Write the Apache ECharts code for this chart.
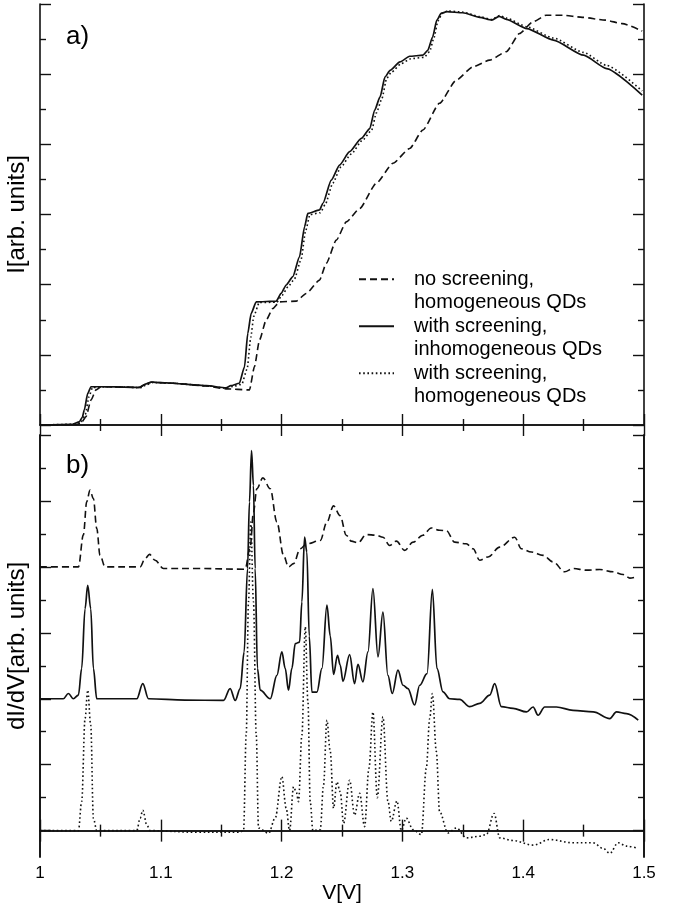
<!DOCTYPE html>
<html>
<head>
<meta charset="utf-8">
<title>I-V and dI/dV</title>
<script src="https://cdn.jsdelivr.net/npm/echarts@6/dist/echarts.min.js"></script>
<style>
  html, body { margin: 0; padding: 0; background: #fff; }
  #chart { width: 674px; height: 903px; }
</style>
</head>
<body>
<div id="chart"></div>
<script>
// legend / series names
const seriesNames = [
    'no screening,\nhomogeneous QDs',
    'with screening,\ninhomogeneous QDs',
    'with screening,\nhomogeneous QDs'
];

// a) current, [V, I]
const aDashed = [
    [1.000, 0.00], [1.030, 0.01], [1.034, 0.05], [1.0381, 0.24], [1.0422, 0.71], [1.0464, 1.00],
    [1.0505, 1.09], [1.070, 1.08], [1.082, 1.07], [1.0878, 1.17], [1.092, 1.22], [1.110, 1.19],
    [1.1375, 1.11], [1.154, 1.03], [1.1734, 1.00], [1.1775, 1.66], [1.1817, 2.42], [1.1872, 2.99],
    [1.1927, 3.32], [1.1983, 3.51], [1.2121, 3.53], [1.2204, 3.75], [1.2314, 4.13], [1.237, 4.61],
    [1.2453, 5.27], [1.2536, 5.79], [1.2646, 6.17], [1.2784, 6.89], [1.2922, 7.46], [1.306, 7.88],
    [1.317, 8.41], [1.3307, 9.17], [1.3446, 9.83], [1.3584, 10.21], [1.3722, 10.40], [1.386, 10.64],
    [1.397, 11.16], [1.408, 11.49], [1.419, 11.68], [1.4325, 11.68], [1.449, 11.62], [1.468, 11.54],
    [1.482, 11.44], [1.4985, 11.23]
];
const aSolid = [
    [1.000, 0.00], [1.027, 0.02], [1.0325, 0.09], [1.035, 0.22], [1.0367, 0.43], [1.0395, 0.90],
    [1.0422, 1.09], [1.055, 1.09], [1.070, 1.08], [1.082, 1.07], [1.0878, 1.17], [1.092, 1.22],
    [1.100, 1.21], [1.110, 1.19], [1.125, 1.15], [1.1375, 1.12], [1.154, 1.06], [1.158, 1.12],
    [1.165, 1.19], [1.1693, 1.66], [1.172, 2.61], [1.1748, 3.18], [1.179, 3.51], [1.1955, 3.53],
    [1.1996, 3.75], [1.2038, 3.99], [1.2093, 4.23], [1.2148, 4.79], [1.219, 5.65], [1.2217, 6.03],
    [1.2314, 6.13], [1.2342, 6.32], [1.2411, 6.98], [1.248, 7.41], [1.2563, 7.79], [1.266, 8.17],
    [1.273, 8.45], [1.277, 8.97], [1.2815, 9.35], [1.2856, 9.92], [1.2898, 10.11], [1.298, 10.35],
    [1.306, 10.51], [1.317, 10.54], [1.321, 10.68], [1.325, 11.06], [1.3285, 11.54], [1.332, 11.73],
    [1.3366, 11.78], [1.35, 11.75], [1.364, 11.62], [1.374, 11.54], [1.38, 11.65], [1.386, 11.56],
    [1.403, 11.30], [1.425, 10.97], [1.45, 10.54], [1.469, 10.16], [1.4985, 9.40]
];
const aDotted = [
    [1.000, 0.00], [1.028, 0.02], [1.034, 0.08], [1.0375, 0.30], [1.0405, 0.80], [1.0435, 1.07],
    [1.055, 1.09], [1.070, 1.08], [1.083, 1.06], [1.0885, 1.15], [1.093, 1.21], [1.110, 1.19],
    [1.1375, 1.12], [1.154, 1.05], [1.160, 1.10], [1.167, 1.16], [1.1715, 1.60], [1.1745, 2.50],
    [1.177, 3.10], [1.1815, 3.49], [1.196, 3.50], [1.2005, 3.70], [1.2055, 3.95], [1.2105, 4.15],
    [1.216, 4.70], [1.220, 5.55], [1.2235, 6.00], [1.232, 6.05], [1.236, 6.28], [1.2425, 6.90],
    [1.249, 7.35], [1.2575, 7.72], [1.267, 8.12], [1.2745, 8.40], [1.2785, 8.90], [1.283, 9.30],
    [1.287, 9.88], [1.291, 10.06], [1.299, 10.30], [1.307, 10.44], [1.318, 10.48], [1.3225, 10.64],
    [1.326, 11.02], [1.3295, 11.52], [1.333, 11.74], [1.3375, 11.80], [1.35, 11.77], [1.364, 11.64],
    [1.374, 11.56], [1.3805, 11.67], [1.386, 11.60], [1.403, 11.35], [1.425, 11.03], [1.45, 10.62],
    [1.469, 10.25], [1.4985, 9.52]
];

// b) dI/dV, [V, dI/dV] (curves offset: dotted 0, solid 4, dashed 8)
const bDashed = [
    [1.000, 8.00], [1.0318, 8.00], [1.0359, 8.97], [1.0387, 9.98], [1.0414, 10.33], [1.0442, 10.07],
    [1.047, 9.16], [1.0497, 8.35], [1.0539, 8.00], [1.0829, 8.00], [1.087, 8.25], [1.0906, 8.38],
    [1.0953, 8.20], [1.1022, 7.95], [1.130, 7.95], [1.1698, 7.93], [1.174, 8.60], [1.1767, 9.66],
    [1.1795, 10.37], [1.1845, 10.70], [1.1906, 10.37], [1.1961, 9.36], [1.2016, 8.35], [1.2057, 8.00],
    [1.2099, 8.10], [1.2154, 8.55], [1.2209, 8.70], [1.232, 8.80], [1.2375, 9.36], [1.243, 9.85],
    [1.2485, 9.55], [1.2535, 8.96], [1.2577, 8.78], [1.2632, 8.73], [1.2701, 8.98], [1.2784, 8.96],
    [1.2839, 8.90], [1.2894, 8.65], [1.295, 8.78], [1.3019, 8.50], [1.3088, 8.75], [1.317, 8.96],
    [1.3239, 9.18], [1.3308, 9.11], [1.3364, 9.10], [1.3433, 8.75], [1.3529, 8.70], [1.3585, 8.55],
    [1.364, 8.20], [1.3709, 8.30], [1.3806, 8.60], [1.393, 8.90], [1.3985, 8.55], [1.4068, 8.45],
    [1.4165, 8.35], [1.4247, 8.15], [1.4344, 7.85], [1.4413, 7.95], [1.4524, 7.90], [1.4634, 7.92],
    [1.4745, 7.85], [1.4827, 7.77], [1.4883, 7.66], [1.4938, 7.70]
];
const bSolid = [
    [1.000, 4.00], [1.0193, 4.00], [1.0235, 4.16], [1.0276, 4.00], [1.0318, 4.11], [1.0345, 4.92],
    [1.0373, 6.73], [1.0395, 7.44], [1.042, 6.73], [1.0442, 4.92], [1.047, 4.00], [1.0801, 4.00],
    [1.0851, 4.46], [1.0898, 4.00], [1.120, 3.96], [1.1519, 3.95], [1.1574, 4.31], [1.1616, 3.95],
    [1.1657, 4.31], [1.169, 5.42], [1.1718, 7.95], [1.1734, 9.97], [1.1751, 11.53], [1.1767, 10.47],
    [1.1781, 7.95], [1.180, 4.92], [1.1823, 4.26], [1.1906, 4.00], [1.1961, 4.71], [1.2002, 5.42],
    [1.203, 4.92], [1.2057, 4.26], [1.2085, 4.92], [1.2113, 5.67], [1.2149, 5.72], [1.2168, 6.94],
    [1.219, 8.90], [1.2209, 8.45], [1.2229, 5.90], [1.2251, 4.20], [1.2292, 4.20], [1.2334, 4.92],
    [1.2375, 6.84], [1.2403, 5.90], [1.243, 4.74], [1.2463, 5.32], [1.2485, 5.02], [1.2508, 4.53],
    [1.2563, 5.34], [1.2604, 4.46], [1.2632, 5.04], [1.2673, 4.51], [1.2715, 5.42], [1.2756, 7.34],
    [1.2798, 5.27], [1.2839, 6.63], [1.288, 4.71], [1.2916, 4.16], [1.2963, 4.87], [1.3005, 4.41],
    [1.3046, 4.31], [1.3101, 3.81], [1.3143, 4.41], [1.3204, 4.76], [1.3248, 7.32], [1.3286, 4.92],
    [1.3336, 4.21], [1.3391, 4.00], [1.3474, 3.98], [1.3557, 3.76], [1.364, 3.86], [1.3723, 4.11],
    [1.3764, 4.46], [1.3819, 3.76], [1.3916, 3.71], [1.4027, 3.60], [1.4082, 3.75], [1.4123, 3.50],
    [1.4178, 3.75], [1.4275, 3.75], [1.4413, 3.65], [1.4579, 3.60], [1.4717, 3.40], [1.4772, 3.60],
    [1.4855, 3.55], [1.4952, 3.35]
];
const bDotted = [
    [1.000, 0.00], [1.0318, 0.00], [1.0345, 0.88], [1.0373, 3.40], [1.0395, 4.26], [1.042, 3.20],
    [1.0442, 0.37], [1.047, 0.00], [1.0801, 0.00], [1.0829, 0.38], [1.0851, 0.62], [1.0884, 0.18],
    [1.0911, 0.00], [1.130, -0.05], [1.1657, -0.05], [1.1685, 0.00], [1.1707, 2.90], [1.1726, 6.94],
    [1.1745, 9.36], [1.1767, 6.94], [1.179, 2.90], [1.1809, 0.08], [1.1892, -0.08], [1.1947, 0.38],
    [1.2002, 1.64], [1.2038, 0.68], [1.2066, 0.00], [1.2099, 1.33], [1.2121, 1.18], [1.214, 0.88],
    [1.2168, 2.90], [1.2196, 6.18], [1.2218, 3.90], [1.2237, 0.88], [1.2259, 0.00], [1.232, 0.03],
    [1.2347, 1.38], [1.2375, 3.35], [1.2403, 2.40], [1.243, 0.68], [1.2458, 1.48], [1.2485, 1.18],
    [1.2513, 0.22], [1.2563, 1.53], [1.2604, 0.47], [1.2646, 1.13], [1.2687, 0.12], [1.2723, 1.89],
    [1.2756, 3.60], [1.2792, 1.00], [1.2839, 3.45], [1.288, 0.90], [1.2908, 0.28], [1.2955, 0.90],
    [1.2991, 0.00], [1.3032, 0.38], [1.3088, 0.03], [1.3157, -0.12], [1.3198, 1.89], [1.3226, 3.40],
    [1.3248, 4.16], [1.3281, 2.40], [1.3308, 0.57], [1.3377, -0.07], [1.3447, 0.08], [1.3529, -0.22],
    [1.364, -0.17], [1.3695, -0.12], [1.3759, 0.52], [1.3806, -0.22], [1.3916, -0.30], [1.4082, -0.44],
    [1.4219, -0.27], [1.4413, -0.37], [1.4579, -0.37], [1.4662, -0.54], [1.4717, -0.69], [1.4786, -0.37],
    [1.4855, -0.47], [1.4952, -0.54]
];

// tick positions for the b) axis
const bLongTicks = [0, 2, 4, 6, 8, 10, 12];
const bShortTicks = [1, 3, 5, 7, 9, 11];

const FONT = '"Liberation Sans", Arial, Helvetica, sans-serif';
const INK = '#111';

const chart = echarts.init(document.getElementById('chart'), null, { renderer: 'canvas' });

function xAxisFor(grid, position, labels) {
    return {
        type: 'value', gridIndex: grid, position: position,
        min: 1, max: 1.5, interval: 0.1,
        axisLine: { lineStyle: { color: INK, width: 1.6 } },
        axisTick: { inside: true, length: 11, lineStyle: { color: INK, width: 1.4 } },
        minorTick: { show: true, splitNumber: 2, length: 6, lineStyle: { color: INK, width: 1.4 } },
        axisLabel: { show: labels, color: '#000', fontSize: 17, fontFamily: FONT, margin: 8 },
        splitLine: { show: false }
    };
}

function bAxis(position, ticks, len, name) {
    return {
        type: 'value', gridIndex: 1, position: position,
        min: -0.8, max: 12,
        name: name || '', nameLocation: 'middle', nameGap: 11,
        nameTextStyle: { color: '#000', fontSize: 24, fontFamily: FONT },
        axisLine: { show: true, lineStyle: { color: INK, width: 1.6 } },
        axisTick: { inside: true, length: len, customValues: ticks, lineStyle: { color: INK, width: 1.4 } },
        axisLabel: { show: false },
        splitLine: { show: false }
    };
}

function aAxis(position, name) {
    return {
        type: 'value', gridIndex: 0, position: position,
        min: 0, max: 12, interval: 2,
        name: name || '', nameLocation: 'middle', nameGap: 11,
        nameTextStyle: { color: '#000', fontSize: 24, fontFamily: FONT },
        axisLine: { lineStyle: { color: INK, width: 1.6 } },
        axisTick: { inside: true, length: 11, lineStyle: { color: INK, width: 1.4 } },
        minorTick: { show: true, splitNumber: 2, length: 6, lineStyle: { color: INK, width: 1.4 } },
        axisLabel: { show: false },
        splitLine: { show: false }
    };
}

const styles = [
    { type: [7, 4], width: 1.6 },
    { type: 'solid', width: 1.7 },
    { type: [1.6, 2.6], width: 1.6 }
];

function line(name, data, xi, yi, st, smooth) {
    return {
        name: name, type: 'line', data: data,
        xAxisIndex: xi, yAxisIndex: yi,
        symbol: 'none', smooth: smooth, smoothMonotone: 'x',
        lineStyle: { color: INK, width: st.width, type: st.type },
        itemStyle: { color: INK },
        emphasis: { disabled: true }
    };
}

const xa = xAxisFor(0, 'bottom', false);
const xaTop = xAxisFor(0, 'top', false);
const xb = xAxisFor(1, 'bottom', true);
xb.name = 'V[V]';
xb.nameLocation = 'middle';
xb.nameGap = 24;
xb.nameTextStyle = { color: '#000', fontSize: 21, fontFamily: FONT };
const xbTop = xAxisFor(1, 'top', false);

const option = {
    animation: false,
    backgroundColor: '#fff',
    textStyle: { fontFamily: FONT },
    title: [
        { text: 'a)', left: 66, top: 24, padding: 0, textStyle: { fontSize: 26, fontWeight: 'normal', color: '#000', fontFamily: FONT } },
        { text: 'b)', left: 66, top: 453, padding: 0, textStyle: { fontSize: 26, fontWeight: 'normal', color: '#000', fontFamily: FONT } }
    ],
    legend: {
        data: seriesNames,
        orient: 'vertical',
        left: 358, top: 244, padding: 0,
        itemWidth: 35, itemHeight: 2, itemGap: -23.5,
        selectedMode: false,
        itemStyle: { opacity: 0 },
        // blank first row so the sample line sits on the first text row
        formatter: function (name) {
            const rows = name.split('\n');
            return '{gap|}\n{t|' + rows[0] + '}\n{t|' + rows[1] + '}';
        },
        textStyle: {
            color: '#000', fontSize: 20, fontFamily: FONT, lineHeight: 23.5, padding: [0, 0, 0, 15],
            rich: {
                gap: { fontSize: 20, lineHeight: 23.5 },
                t: { fontSize: 20, lineHeight: 23.5, color: '#000', fontFamily: FONT }
            }
        }
    },
    grid: [
        { left: 40, top: 4, width: 604, height: 421, outerBoundsMode: 'none', containLabel: false },
        { left: 40, top: 435, width: 604, height: 422, outerBoundsMode: 'none', containLabel: false }
    ],
    xAxis: [xa, xaTop, xb, xbTop],
    yAxis: [
        aAxis('left', 'I[arb. units]'),
        aAxis('right'),
        bAxis('left', bLongTicks, 11, 'dI/dV[arb. units]'),
        bAxis('right', bLongTicks, 11),
        bAxis('left', bShortTicks, 6),
        bAxis('right', bShortTicks, 6)
    ],
    series: [
        line(seriesNames[0], aDashed, 0, 0, styles[0], 0.2),
        line(seriesNames[1], aSolid, 0, 0, styles[1], 0.2),
        line(seriesNames[2], aDotted, 0, 0, styles[2], 0.2),
        line(seriesNames[0], bDashed, 2, 2, styles[0], 0.35),
        line(seriesNames[1], bSolid, 2, 2, styles[1], 0.35),
        line(seriesNames[2], bDotted, 2, 2, styles[2], 0.35)
    ]
};

chart.setOption(option);
</script>
</body>
</html>
